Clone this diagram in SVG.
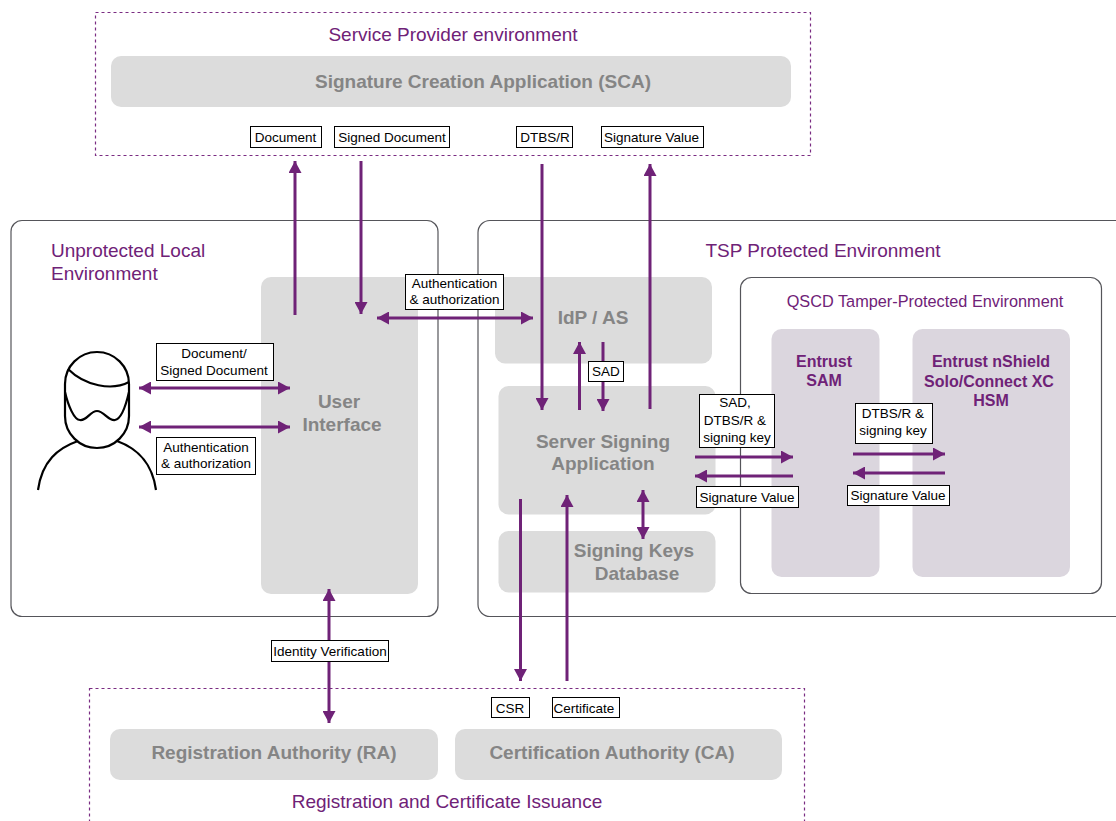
<svg xmlns="http://www.w3.org/2000/svg" width="1116" height="821" viewBox="0 0 1116 821">
<style>
text{font-family:"Liberation Sans",Arial,sans-serif}
.env{fill:#fff;stroke:#55555a;stroke-width:1.2}
.dash{fill:none;stroke:#7a2c82;stroke-width:1.2;stroke-dasharray:3 3}
.box{fill:#dcdcdc}
.hsm{fill:#dbd6de}
.t{font-size:19px;font-weight:700;fill:#858585;text-anchor:middle}
.p{font-size:19px;fill:#6f2277}
.h{font-size:16px;font-weight:700;fill:#6f2277;text-anchor:middle}
.lb{fill:#fff;stroke:#000;stroke-width:1}
.l{font-size:13.500px;fill:#000;text-anchor:middle}
.c{fill:none;stroke:#6f2277;stroke-width:3}
.fig{fill:none;stroke:#000;stroke-width:2.200}
</style>
<defs>
<marker id="a" markerUnits="userSpaceOnUse" markerWidth="13" markerHeight="13" refX="12" refY="6.500" orient="auto-start-reverse"><path d="M0 0L12 6.500L0 13Z" fill="#6f2277"/></marker>
</defs>
<rect width="1116" height="821" fill="#fff"/>
<g id="service-provider">
<rect class="dash" x="95.500" y="12.500" width="715" height="143"/>
<text class="p" x="453" y="41" text-anchor="middle">Service Provider environment</text>
</g>
<g id="sca">
<rect class="box" x="111" y="56" width="680" height="51" rx="10"/>
<text class="t" x="483" y="88">Signature Creation Application (SCA)</text>
</g>
<g id="local-env">
<rect class="env" x="11" y="220.500" width="427" height="396" rx="11"/>
<text class="p" x="51" y="257">Unprotected Local</text>
<text class="p" x="51" y="280">Environment</text>
</g>
<g id="tsp-env">
<path class="env" d="M1117 220.500H490a12 12 0 0 0-12 12V604.500a12 12 0 0 0 12 12H1117"/>
<text class="p" x="823" y="257" text-anchor="middle">TSP Protected Environment</text>
</g>
<g id="ui">
<rect class="box" x="261" y="277" width="157" height="317" rx="10"/>
<text class="t" x="339" y="408">User</text>
<text class="t" x="342" y="431">Interface</text>
</g>
<g id="idp">
<rect class="box" x="495" y="277" width="217" height="86.500" rx="10"/>
<text class="t" x="593" y="324">IdP / AS</text>
</g>
<g id="ssa">
<rect class="box" x="498.500" y="386" width="217" height="128.500" rx="10"/>
<text class="t" x="603" y="448">Server Signing</text>
<text class="t" x="603" y="470">Application</text>
</g>
<g id="keys">
<rect class="box" x="498.500" y="531" width="217" height="61.500" rx="10"/>
<text class="t" x="634" y="557">Signing Keys</text>
<text class="t" x="637" y="580">Database</text>
</g>
<g id="qscd">
<rect class="env" x="740.500" y="277.500" width="361" height="316" rx="11"/>
<text x="925" y="307" text-anchor="middle" font-size="16.300" fill="#6f2277">QSCD Tamper-Protected Environment</text>
</g>
<g id="sam">
<rect class="hsm" x="771.500" y="329" width="108" height="248" rx="10"/>
<text class="h" x="824" y="367">Entrust</text>
<text class="h" x="824" y="386">SAM</text>
</g>
<g id="hsm">
<rect class="hsm" x="912.500" y="329" width="157.500" height="248" rx="10"/>
<text class="h" x="991" y="367">Entrust nShield</text>
<text class="h" x="989" y="387">Solo/Connect XC</text>
<text class="h" x="991" y="406">HSM</text>
</g>
<g id="registration">
<rect class="dash" x="89.500" y="688.500" width="715" height="150"/>
<text class="p" x="447" y="808" text-anchor="middle">Registration and Certificate Issuance</text>
</g>
<g id="ra">
<rect class="box" x="110" y="729" width="328" height="51" rx="10"/>
<text class="t" x="274" y="759">Registration Authority (RA)</text>
</g>
<g id="ca">
<rect class="box" x="455" y="729" width="327" height="51" rx="10"/>
<text class="t" x="612" y="759">Certification Authority (CA)</text>
</g>
<g id="user">
<rect class="fig" x="65" y="352" width="64" height="96" rx="32"/>
<path class="fig" d="M68 369C85 386 112 391 129 382"/>
<path class="fig" d="M65 392C68 405 74 420 80 420C87 421 90 411 97 411C104 411 108 421 115 420C121 419 126 405 129 392"/>
<path class="fig" d="M38 490C42 461 58 448 78 441"/>
<path class="fig" d="M156 490C152 461 136 448 117 441"/>
</g>
<g id="connectors">
<path class="c" marker-end="url(#a)" d="M295 315V161"/>
<path class="c" marker-end="url(#a)" d="M361 161V314"/>
<path class="c" marker-end="url(#a)" d="M542 164V410"/>
<path class="c" marker-end="url(#a)" d="M650 409V164"/>
<path class="c" marker-start="url(#a)" marker-end="url(#a)" d="M377 318H533"/>
<path class="c" marker-start="url(#a)" marker-end="url(#a)" d="M139 388H290"/>
<path class="c" marker-start="url(#a)" marker-end="url(#a)" d="M139 427H290"/>
<path class="c" marker-end="url(#a)" d="M579.500 410V342"/>
<path class="c" marker-end="url(#a)" d="M603 342V411"/>
<path class="c" marker-end="url(#a)" d="M695 457H793"/>
<path class="c" marker-end="url(#a)" d="M793 476H695"/>
<path class="c" marker-end="url(#a)" d="M853 454H945"/>
<path class="c" marker-end="url(#a)" d="M945 473H853"/>
<path class="c" marker-start="url(#a)" marker-end="url(#a)" d="M643 490V539"/>
<path class="c" marker-end="url(#a)" d="M520.500 499V681"/>
<path class="c" marker-end="url(#a)" d="M567 681V495"/>
<path class="c" marker-start="url(#a)" marker-end="url(#a)" d="M329 589V723"/>
</g>
<g id="labels">
<rect class="lb" x="250.500" y="126.500" width="71" height="21"/><text class="l" x="285.500" y="142">Document</text>
<rect class="lb" x="334.500" y="126.500" width="115" height="21"/><text class="l" x="392" y="142">Signed Document</text>
<rect class="lb" x="516.500" y="126.500" width="56" height="21"/><text class="l" x="545" y="142">DTBS/R</text>
<rect class="lb" x="601.500" y="126.500" width="102" height="21"/><text class="l" x="651.500" y="142">Signature Value</text>
<rect class="lb" x="405.500" y="274.500" width="98" height="35"/><text class="l" x="454.500" y="288">Authentication</text><text class="l" x="454.500" y="304">&amp; authorization</text>
<rect class="lb" x="156.500" y="343.500" width="117" height="37"/><text class="l" x="214" y="358">Document/</text><text class="l" x="214" y="375">Signed Document</text>
<rect class="lb" x="156.500" y="437.500" width="99" height="37"/><text class="l" x="206" y="452">Authentication</text><text class="l" x="206" y="468">&amp; authorization</text>
<rect class="lb" x="588.500" y="361.500" width="35" height="20"/><text class="l" x="606" y="376">SAD</text>
<rect class="lb" x="699.500" y="394.500" width="75" height="53"/><text class="l" x="735" y="407">SAD,</text><text class="l" x="735" y="425">DTBS/R &amp;</text><text class="l" x="737" y="442">signing key</text>
<rect class="lb" x="696.500" y="486.500" width="102" height="21"/><text class="l" x="747" y="502">Signature Value</text>
<rect class="lb" x="855.500" y="403.500" width="77" height="40"/><text class="l" x="893" y="418">DTBS/R &amp;</text><text class="l" x="893" y="435">signing key</text>
<rect class="lb" x="847.500" y="485.500" width="102" height="20"/><text class="l" x="898" y="500">Signature Value</text>
<rect class="lb" x="271.500" y="640.500" width="117" height="21"/><text class="l" x="330" y="656">Identity Verification</text>
<rect class="lb" x="491.500" y="697.500" width="38" height="20"/><text class="l" x="510" y="713">CSR</text>
<rect class="lb" x="552.500" y="697.500" width="67" height="20"/><text class="l" x="584" y="713">Certificate</text>
</g>
</svg>
